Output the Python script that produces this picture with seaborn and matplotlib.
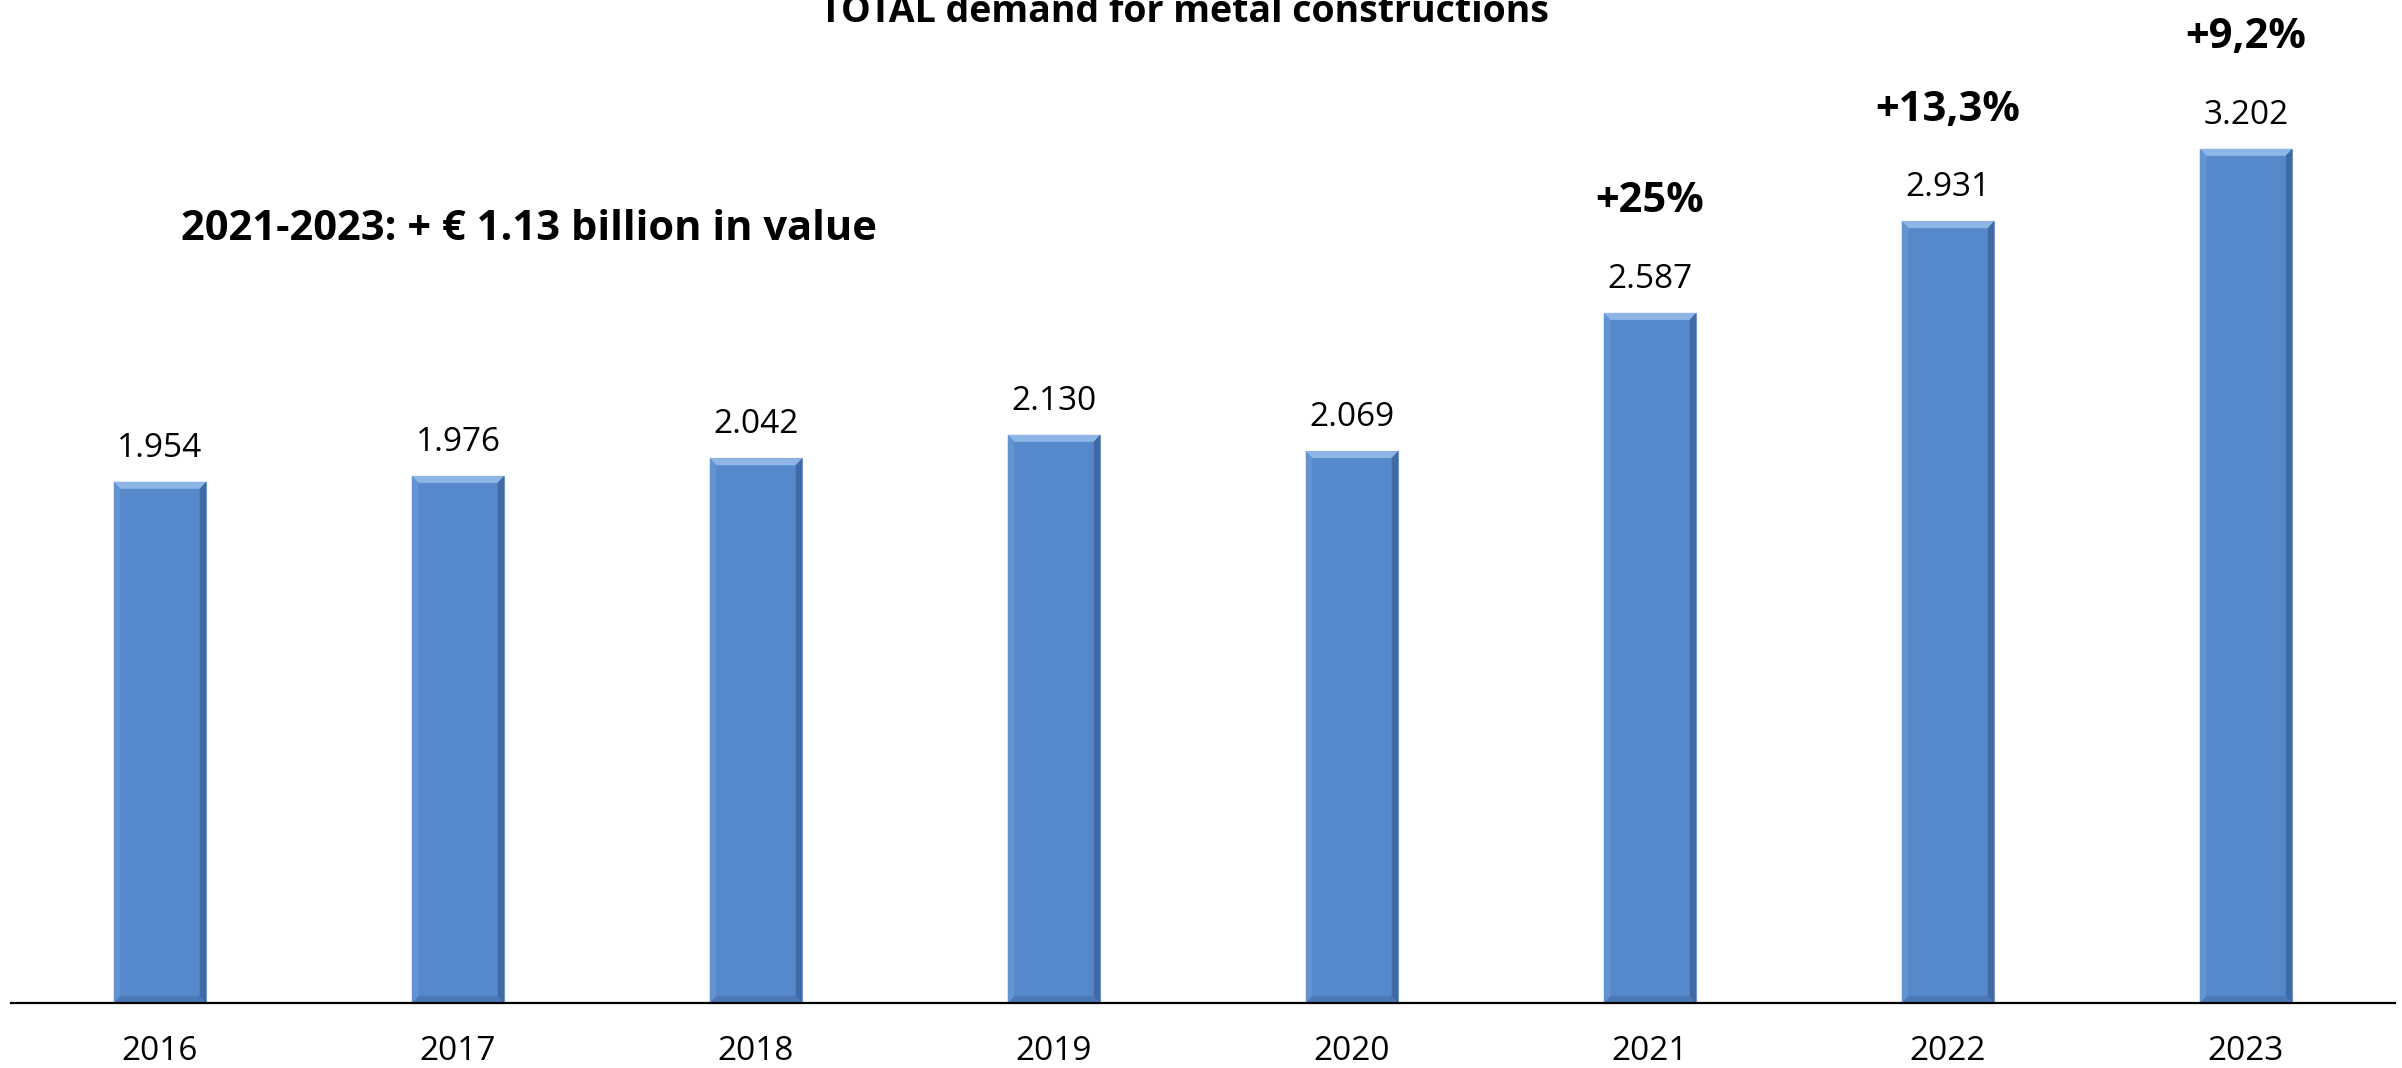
import matplotlib
matplotlib.use("Agg")
import matplotlib.pyplot as plt
from matplotlib.patches import Polygon
import seaborn as sns
import pandas as pd

# data (million EUR)
years = ["2016", "2017", "2018", "2019", "2020", "2021", "2022", "2023"]
demand = [1954, 1976, 2042, 2130, 2069, 2587, 2931, 3202]
growth = ["", "", "", "", "", "+25%", "+13,3%", "+9,2%"]

title = "TOTAL demand for metal constructions"
note = "2021-2023: + € 1.13 billion in value"

BAR = "#5689CC"
TOP = "#8DB5E6"
LEFT = "#6493D2"
RIGHT = "#3F6AA5"
BOTTOM = "#4C78B5"

sns.set_theme(style="white")
plt.rcParams["font.family"] = ["Open Sans", "DejaVu Sans"]

df = pd.DataFrame({"year": years, "demand": demand})

fig = plt.figure(figsize=(24.02, 10.68), dpi=100)
ax = fig.add_axes([11 / 2402, 65 / 1068, 0.9925, 1 - 65 / 1068])

sns.barplot(data=df, x="year", y="demand", color=BAR, width=0.31,
            saturation=1, edgecolor="#7E9CC6", linewidth=0.8, ax=ax)

ax.set_xlim(-0.5, 7.5)
ax.set_ylim(0, 3760)

# bevel effect on each bar, built from the bar geometry
for p in ax.patches:
    x0, y0 = p.get_x(), p.get_y()
    w, h = p.get_width(), p.get_height()
    x1, y1 = x0 + w, y0 + h
    bx, by = w * 0.07, 3760 * 0.007
    faces = [
        ([(x0, y1), (x1, y1), (x1 - bx, y1 - by), (x0 + bx, y1 - by)], TOP),
        ([(x0, y0), (x1, y0), (x1 - bx, y0 + by), (x0 + bx, y0 + by)], BOTTOM),
        ([(x0, y0), (x0, y1), (x0 + bx, y1 - by), (x0 + bx, y0 + by)], LEFT),
        ([(x1, y0), (x1, y1), (x1 - bx, y1 - by), (x1 - bx, y0 + by)], RIGHT),
    ]
    for pts, c in faces:
        ax.add_patch(Polygon(pts, closed=True, facecolor=c, edgecolor="none",
                             zorder=p.get_zorder() + 0.1))

for i, (v, g) in enumerate(zip(demand, growth)):
    ax.annotate(f"{v:,}".replace(",", "."), (i, v), xytext=(0, 24),
                textcoords="offset points", ha="center", va="center",
                fontsize=24, color="black")
    if g:
        ax.annotate(g, (i, v), xytext=(0, 80), textcoords="offset points",
                    ha="center", va="center", fontsize=30,
                    fontweight="bold", color="black", annotation_clip=False)

for s in ["top", "left", "right"]:
    ax.spines[s].set_visible(False)
ax.spines["bottom"].set_color("black")
ax.spines["bottom"].set_linewidth(1.6)

ax.set_yticks([])
ax.set_xlabel("")
ax.set_ylabel("")
ax.tick_params(axis="x", length=0, pad=23, labelsize=24, labelcolor="black")

fig.text(0.493, 1 - 22 / 1068, title, ha="center", va="baseline",
         fontsize=27, fontweight="bold", color="black")
fig.text(181 / 2402, 1 - 230 / 1068, note, ha="left", va="center",
         fontsize=30, fontweight="bold", color="black")

fig.savefig("out.png", dpi=100)
